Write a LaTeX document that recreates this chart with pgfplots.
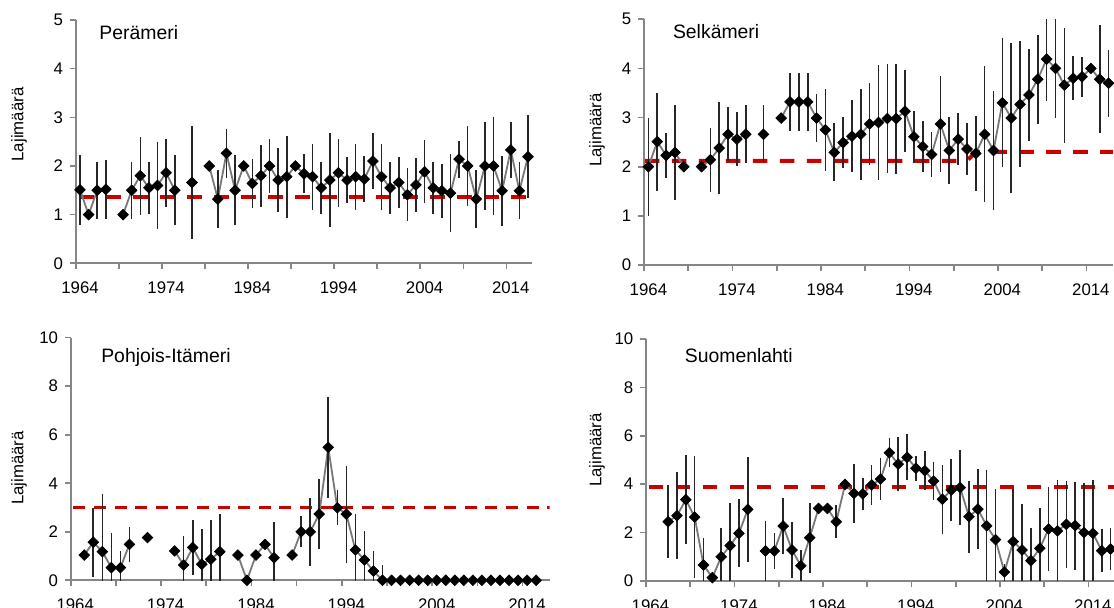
\documentclass[border=0pt]{standalone}
\usepackage{fontspec}
\setmainfont{Liberation Sans}
\usepackage{pgfplots}
\usepackage{pgfplotstable}
\pgfplotsset{compat=1.18}
\definecolor{axisgray}{RGB}{134,134,134}
\definecolor{linegray}{RGB}{120,120,120}
\definecolor{refred}{RGB}{200,0,0}

\pgfplotstableread{
yr v e
1964 1.51 0.72
1965 1.00 0
1966 1.50 0.59
1967 1.52 0.61
1968 nan 0
1969 1.00 0
1970 1.50 0.59
1971 1.80 0.80
1972 1.55 0.54
1973 1.60 0.90
1974 1.86 0.70
1975 1.50 0.72
1976 nan 0
1977 1.66 1.17
1978 nan 0
1979 2.00 0
1980 1.32 0.59
1981 2.26 0.51
1982 1.50 0.72
1983 2.00 0
1984 1.64 0.51
1985 1.80 0.64
1986 2.00 0.56
1987 1.71 0.66
1988 1.78 0.84
1989 2.00 0
1990 1.84 0.40
1991 1.78 0.68
1992 1.55 0.53
1993 1.71 0.97
1994 1.86 0.70
1995 1.71 0.48
1996 1.78 0.68
1997 1.73 0.47
1998 2.10 0.58
1999 1.78 0.68
2000 1.55 0.53
2001 1.66 0.52
2002 1.41 0.55
2003 1.61 0.55
2004 1.88 0.65
2005 1.55 0.53
2006 1.49 0.55
2007 1.44 0.80
2008 2.14 0.38
2009 2.00 0.82
2010 1.32 0.59
2011 2.00 0.90
2012 2.00 1.01
2013 1.49 0.72
2014 2.33 0.58
2015 1.49 0.59
2016 2.19 0.85
}\dataA

\pgfplotstableread{
yr v e
1964 2.00 1.00
1965 2.51 1.00
1966 2.23 0.45
1967 2.29 0.96
1968 2.00 0
1969 nan 0
1970 2.00 0
1971 2.14 0.65
1972 2.38 0.93
1973 2.66 0.55
1974 2.56 0.55
1975 2.66 0.59
1976 nan 0
1977 2.66 0.59
1978 nan 0
1979 2.99 0
1980 3.32 0.59
1981 3.32 0.59
1982 3.32 0.59
1983 2.99 0.48
1984 2.75 0.83
1985 2.29 0.59
1986 2.49 0.52
1987 2.62 0.73
1988 2.66 0.93
1989 2.87 0.84
1990 2.90 1.17
1991 2.98 1.10
1992 2.98 1.12
1993 3.13 0.83
1994 2.61 0.53
1995 2.41 0.52
1996 2.25 0.46
1997 2.87 0.98
1998 2.33 0.69
1999 2.56 0.53
2000 2.36 0.52
2001 2.27 0.76
2002 2.66 1.38
2003 2.33 1.22
2004 3.30 1.31
2005 2.99 1.53
2006 3.27 1.28
2007 3.46 0.93
2008 3.78 0.91
2009 4.19 0.85
2010 4.00 1.01
2011 3.66 1.17
2012 3.80 0.45
2013 3.83 0.41
2014 4.00 0
2015 3.78 1.10
2016 3.70 0.68
}\dataB

\pgfplotstableread{
yr v e
1964 nan 0
1965 1.04 0
1966 1.57 1.43
1967 1.18 2.36
1968 0.52 1.42
1969 0.52 0.69
1970 1.48 0.72
1971 nan 0
1972 1.76 0
1973 nan 0
1974 nan 0
1975 1.21 0
1976 0.63 1.21
1977 1.35 1.15
1978 0.66 1.46
1979 0.87 1.62
1980 1.18 1.54
1981 nan 0
1982 1.04 0
1983 0.00 0
1984 1.04 0
1985 1.48 0
1986 0.93 1.46
1987 nan 0
1988 1.04 0
1989 2.00 0.64
1990 2.00 1.41
1991 2.73 1.45
1992 5.48 2.07
1993 2.99 0.72
1994 2.73 2.00
1995 1.25 1.50
1996 0.84 1.19
1997 0.38 0.83
1998 0 0.63
1999 0 0
2000 0 0
2001 0 0
2002 0 0
2003 0 0
2004 0 0
2005 0 0
2006 0 0
2007 0 0
2008 0 0
2009 0 0
2010 0 0
2011 0 0
2012 0 0
2013 0 0
2014 0 0
2015 0 0
2016 nan 0
}\dataC

\pgfplotstableread{
yr v e
1964 nan 0
1965 nan 0
1966 2.45 1.50
1967 2.70 1.80
1968 3.36 1.83
1969 2.64 2.52
1970 0.66 1.13
1971 0.14 0.15
1972 1.00 1.18
1973 1.46 1.75
1974 1.97 1.40
1975 2.96 2.16
1976 nan 0
1977 1.24 1.23
1978 1.24 0.76
1979 2.27 1.17
1980 1.28 1.15
1981 0.63 0.63
1982 1.79 1.45
1983 3.00 0
1984 3.00 0
1985 2.45 0.69
1986 3.99 0
1987 3.62 1.22
1988 3.60 0.66
1989 3.97 0.84
1990 4.21 0.86
1991 5.30 0.60
1992 4.83 1.10
1993 5.11 0.95
1994 4.66 0.52
1995 4.56 0.82
1996 4.13 0.77
1997 3.38 1.43
1998 3.76 1.30
1999 3.86 1.56
2000 2.66 1.49
2001 2.97 1.66
2002 2.28 2.32
2003 1.71 2.08
2004 0.37 0.35
2005 1.63 2.16
2006 1.28 1.92
2007 0.84 1.33
2008 1.35 1.68
2009 2.15 1.75
2010 2.07 2.10
2011 2.34 1.80
2012 2.29 1.82
2013 2.00 2.06
2014 1.97 2.22
2015 1.25 0.89
2016 1.32 0.86
}\dataD

\pgfplotsset{
  panel/.style={
    scale only axis,
    xmin=1963.5, xmax=2016.5, ymin=0,
    axis lines*=left,
    axis line style={draw=axisgray, line width=0.8pt},
    tick align=outside,
    xtick={1964,1974,...,2014},
    minor xtick={1963.5,1968.5,...,2013.5},
    major x tick style={draw=none},
    minor x tick style={draw=axisgray, line width=0.8pt},
    y tick style={draw=axisgray, line width=0.8pt},
    major tick length=2.8pt,
    minor tick length=2.8pt,
    /pgf/number format/assume math mode=true,
    /pgf/number format/1000 sep={},
    tick label style={font=\fontsize{8.4}{10}\selectfont, text=black},
    xticklabel style={yshift=-3pt},
    unbounded coords=jump,
    clip=true,
  },
  data/.style={
    draw=linegray, line width=0.9pt,
    mark=square*, mark size=1.9pt,
    mark options={rotate=45, fill=black, draw=black, solid, line width=0.3pt},
    error bars/.cd, y dir=both, y explicit, error mark=none,
    error bar style={line width=0.8pt, black!85},
  },
  refline/.style={draw=refred, line width=2pt, dash pattern=on 7.3pt off 6.2pt, forget plot},
}
\tikzset{ptitle/.style={anchor=base west, inner sep=0pt, font=\fontsize{9.7}{11}\selectfont}}

\begin{document}
\begin{tikzpicture}
\useasboundingbox (0pt,0pt) rectangle (557pt,304pt);

% Perämeri
\begin{axis}[panel, at={(37.85pt,172.35pt)}, anchor=south west,
  width=228.3pt, height=121.65pt, ymax=5, ytick={0,1,2,3,4,5}]
\addplot[refline] coordinates {(1963.9,1.37) (2016.5,1.37)};
\addplot[data] table[x=yr, y=v, y error=e] {\dataA};
\node[ptitle] at (axis description cs:0.051,0.921) {Perämeri};
\end{axis}

% Selkämeri
\begin{axis}[panel, at={(322pt,171.5pt)}, anchor=south west,
  width=234.5pt, height=122.85pt, ymax=5, ytick={0,1,2,3,4,5}]
\addplot[refline] coordinates {(1963.6,2.12) (2000,2.12) (2001,2.30) (2016.5,2.30)};
\addplot[data] table[x=yr, y=v, y error=e] {\dataB};
\node[ptitle] at (axis description cs:0.061,0.923) {Selkämeri};
\end{axis}

% Pohjois-Itämeri
\begin{axis}[panel, at={(35.35pt,13.85pt)}, anchor=south west,
  width=239.5pt, height=121.3pt, ymax=10, ytick={0,2,4,6,8,10}]
\addplot[refline, line width=1.7pt, dash pattern=on 6pt off 4.3pt] coordinates {(1963.8,3.0) (2016.5,3.0)};
\addplot[data] table[x=yr, y=v, y error=e] {\dataC};
\node[ptitle] at (axis description cs:0.063,0.899) {Pohjois-Itämeri};
\end{axis}

% Suomenlahti
\begin{axis}[panel, at={(323pt,13.5pt)}, anchor=south west,
  width=234.5pt, height=121pt, ymax=10, ytick={0,2,4,6,8,10}]
\addplot[refline] coordinates {(1963.8,3.87) (2016.5,3.87)};
\addplot[data] table[x=yr, y=v, y error=e] {\dataD};
\node[ptitle] at (axis description cs:0.082,0.904) {Suomenlahti};
\end{axis}

\node[rotate=90, font=\fontsize{8.4}{10}\selectfont] at (9.5pt,241.75pt) {Lajimäärä};
\node[rotate=90, font=\fontsize{8.4}{10}\selectfont] at (298.5pt,239pt) {Lajimäärä};
\node[rotate=90, font=\fontsize{8.4}{10}\selectfont] at (9.5pt,70pt) {Lajimäärä};
\node[rotate=90, font=\fontsize{8.4}{10}\selectfont] at (298.5pt,79pt) {Lajimäärä};
\end{tikzpicture}
\end{document}
